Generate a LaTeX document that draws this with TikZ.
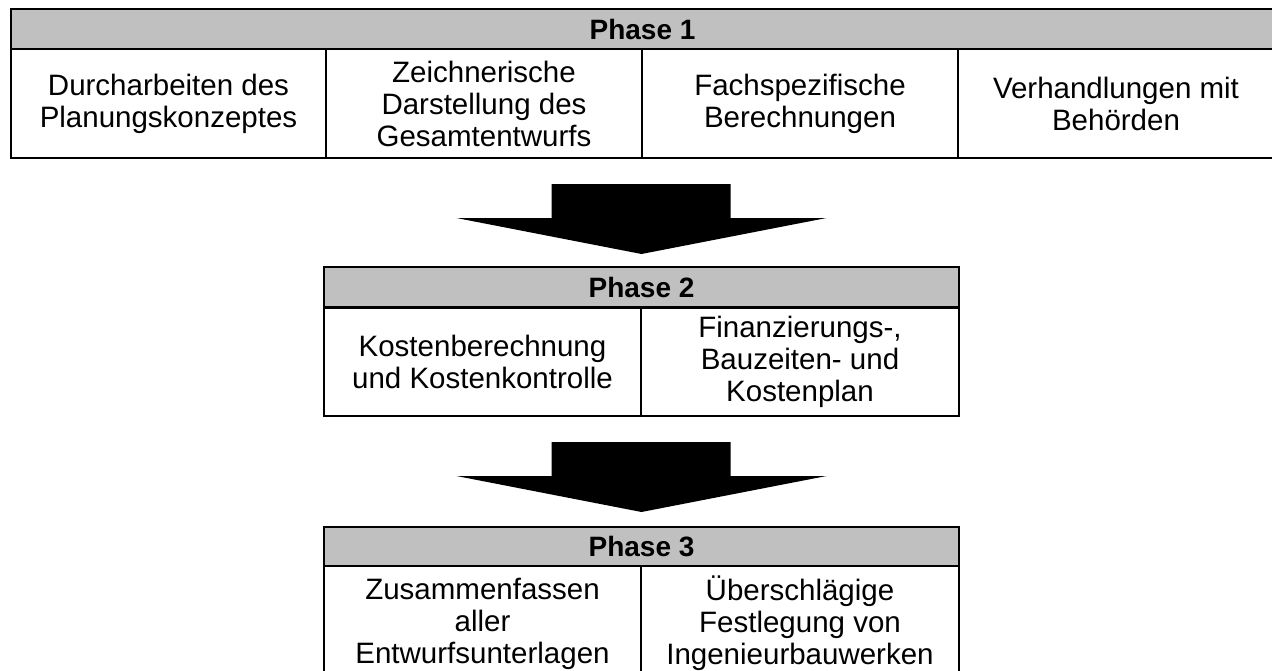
\documentclass[tikz,border=0pt]{standalone}
\usepackage{fontspec}
\setmainfont{Liberation Sans}
\usetikzlibrary{calc}
\definecolor{headgray}{RGB}{192,192,192}
\begin{document}
\begin{tikzpicture}[x=1pt,y=-1pt,
  box/.style={draw=black, line width=2pt, inner sep=0pt, anchor=north west,
    align=center},
  head/.style={box, fill=headgray, minimum height=40pt,
    font=\fontsize{28}{32}\selectfont\bfseries},
  cell/.style={box, fill=white, font=\fontsize{29.5}{32}\selectfont},
  blockarrow/.style={fill=black, draw=none}]
\useasboundingbox (0,0) rectangle (1272,670);

% Phase 1
\node[head, minimum width=1263pt] (h1) at (10,8) {Phase 1};
\node[cell, minimum width=315pt, minimum height=109pt] (c11) at (10,48)
  {Durcharbeiten des\\Planungskonzeptes};
\node[cell, minimum width=316pt, minimum height=109pt] (c12) at (325,48)
  {Zeichnerische\\Darstellung des\\Gesamtentwurfs};
\node[cell, minimum width=316pt, minimum height=109pt] (c13) at (641,48)
  {Fachspezifische\\Berechnungen};
\node[cell, minimum width=316pt, minimum height=109pt] (c14) at (957,48)
  {Verhandlungen mit\\Behörden};

% Phase 2
\node[head, minimum width=635pt] (h2) at (323,266) {Phase 2};
\node[cell, minimum width=317pt, minimum height=108pt] (c21) at (323,307)
  {Kostenberechnung\\und Kostenkontrolle};
\node[cell, minimum width=318pt, minimum height=108pt] (c22) at (640,307)
  {Finanzierungs-,\\Bauzeiten- und\\Kostenplan};

% Phase 3
\node[head, minimum width=635pt, minimum height=39pt] (h3) at (323,526) {Phase 3};
\node[cell, minimum width=317pt, minimum height=115pt] (c31) at (323,565)
  {Zusammenfassen\\aller\\Entwurfsunterlagen};
\node[cell, minimum width=318pt, minimum height=115pt] (c32) at (640,565)
  {Überschlägige\\Festlegung von\\Ingenieurbauwerken};

% Block arrows between the phases, tip just above the next header
\coordinate (t1) at ($(h2.north)+(0,-12)$);
\coordinate (t2) at ($(h3.north)+(0,-14)$);
\foreach \t in {t1,t2}{
  \fill[blockarrow] (\t)
    -- ++(-185,-36) -- ++(95,0) -- ++(0,-34) -- ++(179,0)
    -- ++(0,34) -- ++(96,0) -- cycle;
}
\end{tikzpicture}
\end{document}
